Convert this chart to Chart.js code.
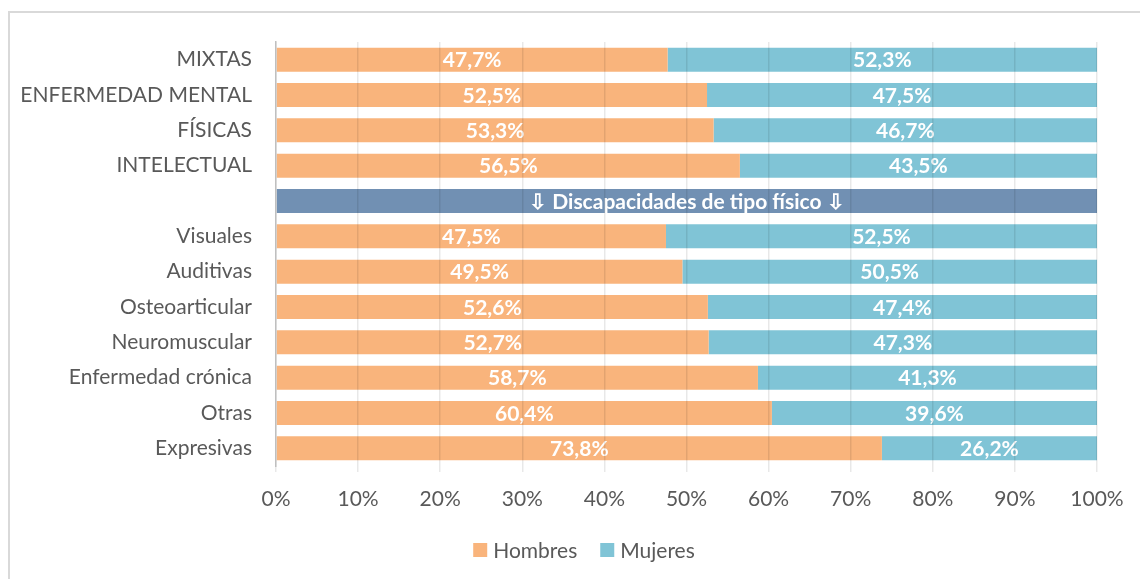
<!DOCTYPE html>
<html>
<head>
<meta charset="utf-8">
<script src="https://cdn.jsdelivr.net/npm/chart.js@4/dist/chart.umd.min.js"></script>
<style>
  body { margin: 0; background: #fff; }
  #wrap { position: relative; width: 1140px; height: 579px; overflow: hidden; }
  #frame { position: absolute; left: 8px; top: 11px; width: 1160px; height: 620px; border: 2px solid #d9d9d9; box-sizing: border-box; }
  #chart { position: absolute; left: 0; top: 0; }
</style>
</head>
<body>
<div id="wrap">
  <div id="frame"></div>
  <canvas id="chart" width="1140" height="579"></canvas>
</div>
<script>
// categorias, de arriba a abajo ('' = fila separadora)
const categories = ['MIXTAS', 'ENFERMEDAD MENTAL', 'FÍSICAS', 'INTELECTUAL', '',
    'Visuales', 'Auditivas', 'Osteoarticular', 'Neuromuscular', 'Enfermedad crónica', 'Otras', 'Expresivas'];
const hombres = [47.7, 52.5, 53.3, 56.5, null, 47.5, 49.5, 52.6, 52.7, 58.7, 60.4, 73.8];
const mujeres = [52.3, 47.5, 46.7, 43.5, null, 52.5, 50.5, 47.4, 47.3, 41.3, 39.6, 26.2];
const separador = [null, null, null, null, 100, null, null, null, null, null, null, null];
const separadorTexto = '⇩ Discapacidades de tipo físico ⇩';
const xTicks = [0, 10, 20, 30, 40, 50, 60, 70, 80, 90, 100];

const gray = '#595959';
const fontFamily = 'Lato, "Noto Sans", sans-serif';

function fmt(v) {
    return v.toFixed(1).replace('.', ',') + '%';
}

// etiquetas dentro de las barras
const barLabels = {
    id: 'barLabels',
    afterDatasetsDraw(chart) {
        const ctx = chart.ctx;
        ctx.save();
        ctx.fillStyle = '#ffffff';
        ctx.textAlign = 'center';
        ctx.textBaseline = 'middle';
        ctx.font = 'bold 21px ' + fontFamily;
        [0, 1].forEach(i => {
            const meta = chart.getDatasetMeta(i);
            meta.data.forEach((bar, j) => {
                const v = chart.data.datasets[i].data[j];
                if (v == null) return;
                ctx.fillText(fmt(v), (bar.base + bar.x) / 2, bar.y + 1);
            });
        });
        const sep = chart.getDatasetMeta(2);
        sep.data.forEach((bar, j) => {
            if (chart.data.datasets[2].data[j] == null) return;
            ctx.fillText(separadorTexto, (bar.base + bar.x) / 2, bar.y + 1);
        });
        ctx.restore();
    }
};

// leyenda propia (Hombres / Mujeres)
const ownLegend = {
    id: 'ownLegend',
    afterDraw(chart) {
        const ctx = chart.ctx;
        const items = chart.data.datasets.slice(0, 2);
        const box = 14, gap = 6, itemGap = 23, cy = 550, cx = 584;
        ctx.save();
        ctx.font = '21px ' + fontFamily;
        ctx.textBaseline = 'middle';
        const widths = items.map(d => box + gap + ctx.measureText(d.label).width);
        const total = widths.reduce((a, b) => a + b, 0) + itemGap * (items.length - 1);
        let x = cx - total / 2;
        items.forEach((d, i) => {
            ctx.fillStyle = d.backgroundColor;
            ctx.fillRect(x, cy - box / 2, box, box);
            ctx.fillStyle = gray;
            ctx.fillText(d.label, x + box + gap, cy + 1);
            x += widths[i] + itemGap;
        });
        ctx.restore();
    }
};

const ctx = document.getElementById('chart').getContext('2d');
const chart = new Chart(ctx, {
    type: 'bar',
    data: {
        labels: categories,
        datasets: [
            { label: 'Hombres', data: hombres, backgroundColor: '#f9b47c' },
            { label: 'Mujeres', data: mujeres, backgroundColor: '#80c4d6' },
            { label: 'sep', data: separador, backgroundColor: '#7190b3' }
        ]
    },
    options: {
        indexAxis: 'y',
        responsive: false,
        animation: false,
        devicePixelRatio: 1,
        datasets: {
            bar: { barPercentage: 1, categoryPercentage: 0.68, borderWidth: 0 }
        },
        layout: {
            padding: { top: 42, right: 43, left: 0, bottom: 53 }
        },
        scales: {
            x: {
                stacked: true,
                min: 0,
                max: 100,
                afterBuildTicks: s => { s.ticks = xTicks.map(v => ({ value: v })); },
                afterFit: s => { s.height = 60; },
                ticks: {
                    color: gray,
                    font: { family: fontFamily, size: 21 },
                    padding: 15,
                    callback: v => v + '%'
                },
                grid: { color: 'rgba(0,0,0,0.09)', lineWidth: 1.5, tickLength: 6, z: 1 },
                border: { display: false }
            },
            y: {
                stacked: true,
                afterFit: s => { s.width = 276; },
                ticks: {
                    color: gray,
                    font: { family: fontFamily, size: 21 },
                    padding: 16
                },
                grid: { display: false },
                border: { display: true, color: '#bfbfbf', width: 1.5, z: 2 }
            }
        },
        plugins: {
            legend: { display: false },
            tooltip: { enabled: false }
        }
    },
    plugins: [barLabels, ownLegend]
});
</script>
</body>
</html>
